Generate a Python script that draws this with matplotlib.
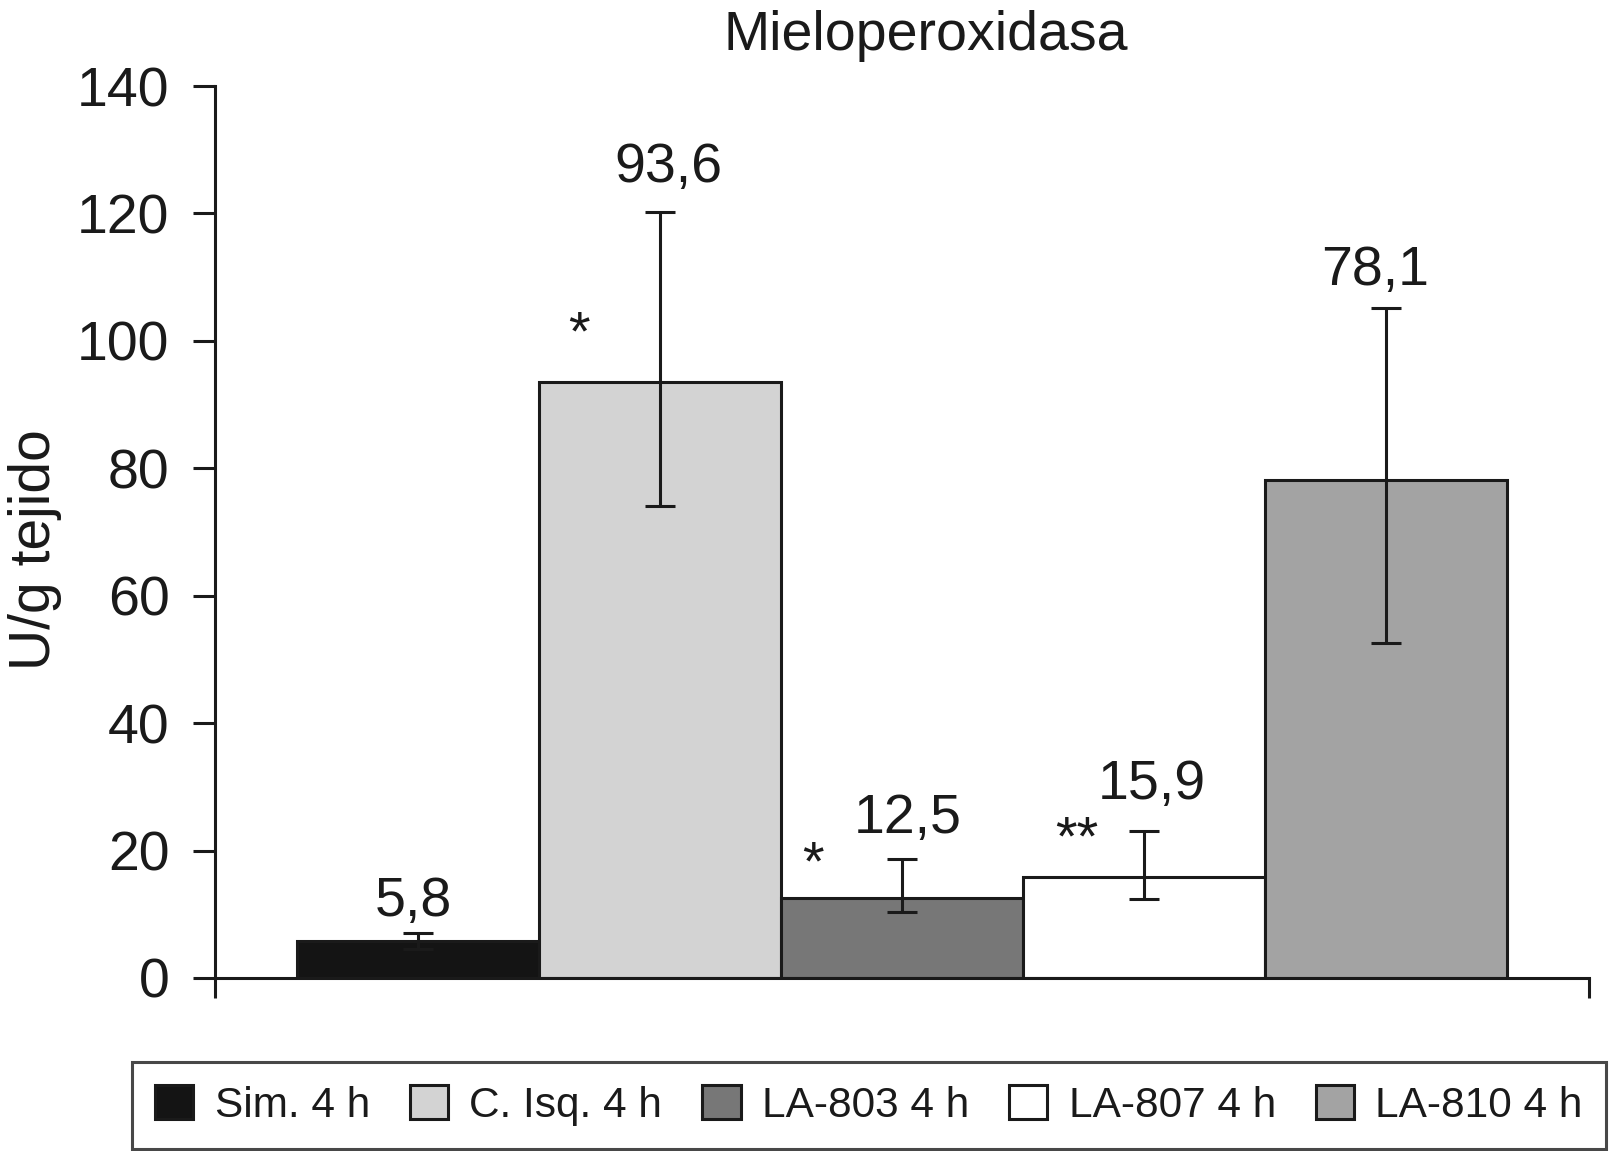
import matplotlib
matplotlib.use("Agg")
import matplotlib.pyplot as plt

plt.rcParams['font.family'] = ['Liberation Sans', 'DejaVu Sans']

# ---- data ----
title = "Mieloperoxidasa"
ylabel = "U/g tejido"
categories = ["Sim. 4 h", "C. Isq. 4 h", "LA-803 4 h", "LA-807 4 h", "LA-810 4 h"]
values = [5.8, 93.6, 12.5, 15.9, 78.1]
err_upper = [1.2, 26.6, 6.2, 7.1, 27.1]
err_lower = [1.2, 19.5, 2.2, 3.5, 25.5]
significance = ["", "*", "*", "**", ""]
yticks = [0, 20, 40, 60, 80, 100, 120, 140]

# ---- styles ----
colors = ["#141414", "#d3d3d3", "#777777", "#ffffff", "#a3a3a3"]
ink = "#1a1a1a"
PX = 0.72  # points per pixel at dpi 100
label_offsets_px = [(-5, 17), (8, 30), (6, 26), (8, 32), (-11, 23)]
star_offsets_px = [(0, 0), (-81, 32), (-89, 19), (-67, 22)]

fig = plt.figure(figsize=(16.17, 11.51), dpi=100)
ax = fig.add_axes([215 / 1617, 1 - 978 / 1151, (1589 - 215) / 1617, (978 - 86) / 1151])

x = list(range(len(values)))
lw = 2.2
bars = []
for i in x:
    b = ax.bar(i, values[i], width=1.0, color=colors[i], edgecolor=ink,
               linewidth=lw, label=categories[i], zorder=2)
    bars.append(b)
    ax.errorbar(i, values[i], yerr=[[err_lower[i]], [err_upper[i]]], fmt='none',
                ecolor=ink, elinewidth=lw, capsize=10.8, capthick=lw, zorder=3)

for i in x:
    top = values[i] + err_upper[i]
    dx, dy = label_offsets_px[i]
    ax.annotate(f"{values[i]:.1f}".replace(".", ","), (i, top),
                xytext=(dx * PX, dy * PX), textcoords='offset points',
                ha='center', va='baseline', fontsize=40, color=ink, zorder=4)
    if significance[i]:
        sdx, sdy = star_offsets_px[i] if i < len(star_offsets_px) else (0, 0)
        ax.annotate(significance[i], (i, values[i]),
                    xytext=(sdx * PX, sdy * PX), textcoords='offset points',
                    ha='center', va='baseline', fontsize=40, color=ink, zorder=4)

ax.set_xlim(-0.839, 4.839)
ax.set_ylim(0, 140)
ax.set_yticks(yticks)
ax.set_yticklabels([str(t) for t in yticks])
ax.set_xticks([-0.839, 4.839])
ax.set_xticklabels(["", ""])

for s in ['top', 'right']:
    ax.spines[s].set_visible(False)
for s in ['left', 'bottom']:
    ax.spines[s].set_linewidth(lw)
    ax.spines[s].set_color(ink)
ax.tick_params(axis='y', direction='out', length=15.8, width=lw, color=ink,
               labelsize=40, labelcolor=ink, pad=17)
ax.tick_params(axis='x', direction='out', length=14.4, width=lw, color=ink)

fig.text(926 / 1617, 1 - 50 / 1151, title, ha='center', va='baseline',
         fontsize=40, color=ink)
fig.text(50 / 1617, 1 - 550 / 1151, ylabel, rotation=90, rotation_mode='anchor',
         ha='center', va='baseline', fontsize=41, color=ink)

leg = fig.legend(handles=[b for b in bars], labels=categories, ncol=5,
                 loc='center', bbox_to_anchor=(869 / 1617, 1 - 1105.5 / 1151),
                 fontsize=30.5, frameon=True, fancybox=False, shadow=False,
                 handlelength=0.9, handleheight=0.83, handletextpad=0.5,
                 columnspacing=0.95, borderpad=0.55, borderaxespad=0)
leg.get_frame().set_edgecolor(ink)
leg.get_frame().set_linewidth(lw)
for t in leg.get_texts():
    t.set_color(ink)

fig.savefig("out.png", dpi=100, facecolor='white')
